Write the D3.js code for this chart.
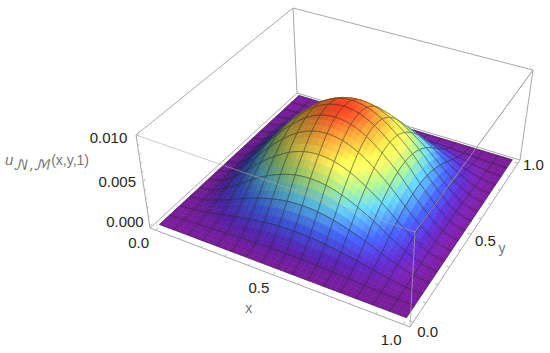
<!doctype html>
<html lang="en">
<head>
<meta charset="utf-8">
<title>Surface plot</title>
<script src="https://d3js.org/d3.v7.min.js"></script>
<style>
body { margin: 0; background: #fff; }
text { font-family: "Liberation Sans", Arial, sans-serif; }
</style>
</head>
<body>
<div id="svg"></div>
<script>

var width = 550;
var height = 353;

//Surface heights, in thousandths. Rows go with x, columns with y
var surfaceValues = [
[0,0,0,0,0,0,0,0,0,0,0,0,0,0,0,0,0],
[0,.02,.09,.18,.27,.36,.42,.47,.48,.47,.42,.36,.27,.18,.09,.02,0],
[0,.09,.35,.67,1.04,1.35,1.60,1.77,1.82,1.77,1.60,1.35,1.04,.67,.35,.09,0],
[0,.18,.67,1.31,2.02,2.63,3.12,3.44,3.55,3.44,3.12,2.63,2.02,1.31,.67,.18,0],
[0,.27,1.04,2.02,3.12,4.05,4.81,5.31,5.47,5.31,4.81,4.05,3.12,2.02,1.04,.27,0],
[0,.36,1.35,2.63,4.05,5.25,6.25,6.89,7.10,6.89,6.25,5.25,4.05,2.63,1.35,.36,0],
[0,.42,1.60,3.12,4.81,6.25,7.44,8.20,8.45,8.20,7.44,6.25,4.81,3.12,1.60,.42,0],
[0,.47,1.77,3.44,5.31,6.89,8.20,9.03,9.31,9.03,8.20,6.89,5.31,3.44,1.77,.47,0],
[0,.48,1.82,3.55,5.47,7.10,8.45,9.31,9.60,9.31,8.45,7.10,5.47,3.55,1.82,.48,0],
[0,.47,1.77,3.44,5.31,6.89,8.20,9.03,9.31,9.03,8.20,6.89,5.31,3.44,1.77,.47,0],
[0,.42,1.60,3.12,4.81,6.25,7.44,8.20,8.45,8.20,7.44,6.25,4.81,3.12,1.60,.42,0],
[0,.36,1.35,2.63,4.05,5.25,6.25,6.89,7.10,6.89,6.25,5.25,4.05,2.63,1.35,.36,0],
[0,.27,1.04,2.02,3.12,4.05,4.81,5.31,5.47,5.31,4.81,4.05,3.12,2.02,1.04,.27,0],
[0,.18,.67,1.31,2.02,2.63,3.12,3.44,3.55,3.44,3.12,2.63,2.02,1.31,.67,.18,0],
[0,.09,.35,.67,1.04,1.35,1.60,1.77,1.82,1.77,1.60,1.35,1.04,.67,.35,.09,0],
[0,.02,.09,.18,.27,.36,.42,.47,.48,.47,.42,.36,.27,.18,.09,.02,0],
[0,0,0,0,0,0,0,0,0,0,0,0,0,0,0,0,0]
];

var xTicks = [0, 0.5, 1];
var yTicks = [0, 0.5, 1];
var zTicks = [0, 0.005, 0.01];
var minorTicks = [0.1, 0.2, 0.3, 0.4, 0.6, 0.7, 0.8, 0.9];
var zMinorTicks = [0.001, 0.002, 0.003, 0.004, 0.006, 0.007, 0.008, 0.009];

var colorStops = [0, 0.08, 0.21, 0.38, 0.52, 0.67, 0.83, 0.96];
var colorValues = ["#7a1c9c", "#5a26bc", "#3f5cec", "#5cc4e4", "#a6e07e", "#ffe950", "#ff9c34", "#ff3420"];

//Box corners on the page, [x=0,y=0], [x=1,y=0], [x=1,y=1], [x=0,y=1]
var floorCorners = [[150, 228], [410, 327], [520, 160], [297, 93]];
var roofCorners = [[136, 135], [415, 232], [533, 70], [293, 8]];

//Label offsets from their ticks, the perspective moves them around
var xLabelOffsets = [[-17, 18], [-14, 18], [-12, 21]];
var yLabelOffsets = [[4, 15], [4, 12], [5, 7]];
var zLabelOffsets = [[-6, 1], [-7, 5], [-9, 6]];

var svg = d3.select("#svg").append("svg")
    .attr("width", width)
    .attr("height", height);

//Homography taking the unit square to a four sided shape
function makeHomography(q) {
    var dx1 = q[1][0] - q[2][0], dx2 = q[3][0] - q[2][0], sx = q[0][0] - q[1][0] + q[2][0] - q[3][0];
    var dy1 = q[1][1] - q[2][1], dy2 = q[3][1] - q[2][1], sy = q[0][1] - q[1][1] + q[2][1] - q[3][1];
    var det = dx1 * dy2 - dx2 * dy1;
    var g = (sx * dy2 - dx2 * sy) / det;
    var h = (dx1 * sy - sx * dy1) / det;
    var a = q[1][0] - q[0][0] + g * q[1][0];
    var b = q[3][0] - q[0][0] + h * q[3][0];
    var d = q[1][1] - q[0][1] + g * q[1][1];
    var e = q[3][1] - q[0][1] + h * q[3][1];
    return function(u, v) {
        var w = g * u + h * v + 1;
        return [(a * u + b * v + q[0][0]) / w, (d * u + e * v + q[0][1]) / w];
    };
}

var floorMap = makeHomography(floorCorners);
var roofMap = makeHomography(roofCorners);

//The surface sits a little inside the box
var xScale = d3.scaleLinear().domain([-0.025, 1.025]).range([0, 1]);
var yScale = d3.scaleLinear().domain([-0.025, 1.025]).range([0, 1]);
var zScale = d3.scaleLinear().domain([-0.0002, 0.0102]).range([0, 1]);
var colorScale = d3.scaleLinear().domain(colorStops.map(function(s) { return s * 0.0102; })).range(colorValues).clamp(true);

function project(x, y, z) {
    var low = floorMap(xScale(x), yScale(y));
    var high = roofMap(xScale(x), yScale(y));
    var w = zScale(z);
    return [low[0] + (high[0] - low[0]) * w, low[1] + (high[1] - low[1]) * w];
}

//Smooth lookup between grid nodes, only so the mesh and colours do not look faceted
function catmull(p0, p1, p2, p3, t) {
    return 0.5 * (2 * p1 + (p2 - p0) * t + (2 * p0 - 5 * p1 + 4 * p2 - p3) * t * t + (3 * p1 - p0 - 3 * p2 + p3) * t * t * t);
}

var n = surfaceValues.length - 1;

function node(i, j) {
    i = Math.max(0, Math.min(n, i));
    j = Math.max(0, Math.min(n, j));
    return surfaceValues[i][j];
}

function heightAt(x, y) {
    var fx = x * n, fy = y * n;
    var i = Math.min(n - 1, Math.floor(fx)), j = Math.min(n - 1, Math.floor(fy));
    var t = fx - i, s = fy - j;
    var rows = [-1, 0, 1, 2].map(function(k) {
        return catmull(node(i + k, j - 1), node(i + k, j), node(i + k, j + 1), node(i + k, j + 2), s);
    });
    return Math.max(0, catmull(rows[0], rows[1], rows[2], rows[3], t)) / 1000;
}

function surfacePoint(x, y) {
    return project(x, y, heightAt(x, y));
}

//Colour by height, darkened on slopes that face away from the light
function shade(x, y) {
    var h = 0.01;
    var z = heightAt(x, y);
    var dzdx = (heightAt(Math.min(1, x + h), y) - heightAt(Math.max(0, x - h), y)) / (2 * h) * 100;
    var dzdy = (heightAt(x, Math.min(1, y + h)) - heightAt(x, Math.max(0, y - h))) / (2 * h) * 100;
    var f = 1 - 0.17 * dzdx - 0.03 * dzdy;
    f = Math.max(0.55, Math.min(1.12, f));
    var c = d3.rgb(colorScale(z));
    return d3.rgb(Math.min(255, c.r * f), Math.min(255, c.g * f), Math.min(255, c.b * f)).formatHex();
}

function edge(x0, y0, z0, x1, y1, z1) {
    return d3.line()([project(x0, y0, z0), project(x1, y1, z1)]);
}

var boxColor = "#a8a8a8";
var low = -0.025, high = 1.025, zLow = -0.0002, zHigh = 0.0102;

function boxLine(x0, y0, z0, x1, y1, z1, op) {
    svg.append("path")
        .attr("d", edge(x0, y0, z0, x1, y1, z1))
        .attr("fill", "none")
        .attr("stroke", boxColor)
        .attr("stroke-opacity", op)
        .attr("stroke-width", 1);
}

//Back edges go under the surface
boxLine(low, high, zLow, low, high, zHigh, 1);
boxLine(low, high, zLow, low, low, zLow, 1);
boxLine(low, high, zLow, high, high, zLow, 1);
boxLine(low, high, zHigh, low, low, zHigh, 1);
boxLine(low, high, zHigh, high, high, zHigh, 1);
boxLine(low, low, zLow, low, low, zHigh, 1);
boxLine(high, high, zLow, high, high, zHigh, 1);
boxLine(high, low, zHigh, high, high, zHigh, 1);
boxLine(low, low, zLow, high, low, zLow, 1);
boxLine(high, low, zLow, high, high, zLow, 1);

//Paint from the far corner (x=0, y=1) to the near corner (x=1, y=0)
var sub = 3;
var surface = svg.append("g");
var meshLine = d3.line();

for (var i = 0; i < n; i++) {
    for (var j = n - 1; j >= 0; j--) {
        for (var a = 0; a < sub; a++) {
            for (var b = sub - 1; b >= 0; b--) {
                var x0 = (i + a / sub) / n, x1 = (i + (a + 1) / sub) / n;
                var y0 = (j + b / sub) / n, y1 = (j + (b + 1) / sub) / n;
                var fill = shade((x0 + x1) / 2, (y0 + y1) / 2);
                surface.append("polygon")
                    .attr("points", [surfacePoint(x0, y0), surfacePoint(x1, y0), surfacePoint(x1, y1), surfacePoint(x0, y1)].join(" "))
                    .attr("fill", fill)
                    .attr("stroke", fill)
                    .attr("stroke-width", 0.6);
            }
        }
        //mesh around this cell
        var cellLines = [];
        cellLines.push([[i / n, j / n], [(i + 1) / n, j / n]]);
        cellLines.push([[i / n, (j + 1) / n], [(i + 1) / n, (j + 1) / n]]);
        cellLines.push([[i / n, j / n], [i / n, (j + 1) / n]]);
        cellLines.push([[(i + 1) / n, j / n], [(i + 1) / n, (j + 1) / n]]);
        cellLines.forEach(function(seg) {
            var pts = d3.range(sub * 2 + 1).map(function(k) {
                var t = k / (sub * 2);
                return surfacePoint(seg[0][0] + (seg[1][0] - seg[0][0]) * t, seg[0][1] + (seg[1][1] - seg[0][1]) * t);
            });
            surface.append("path")
                .attr("d", meshLine(pts))
                .attr("fill", "none")
                .attr("stroke", "#262626")
                .attr("stroke-opacity", 0.5)
                .attr("stroke-width", 0.9);
        });
    }
}

//Front edges lie over the surface
boxLine(low, low, zHigh, high, low, zHigh, 0.6);
boxLine(high, low, zLow, high, low, zHigh, 0.7);
boxLine(high, low, zHigh, high, high, zHigh, 0.7);

//Ticks along the three axes
function tickMark(p, q) {
    svg.append("path")
        .attr("d", d3.line()([p, q]))
        .attr("stroke", boxColor)
        .attr("stroke-width", 0.8);
}

xTicks.concat(minorTicks).forEach(function(v) {
    var len = xTicks.indexOf(v) >= 0 ? 0.016 : 0.01;
    tickMark(project(v, low, zLow), project(v, low + len, zLow));
});
yTicks.concat(minorTicks).forEach(function(v) {
    var len = yTicks.indexOf(v) >= 0 ? 0.016 : 0.01;
    tickMark(project(high, v, zLow), project(high - len, v, zLow));
});
zTicks.concat(zMinorTicks).forEach(function(v) {
    var len = zTicks.indexOf(v) >= 0 ? 0.016 : 0.01;
    tickMark(project(low, low, v), project(low, low + len, v));
});

//Tick labels hang off the tick they belong to
function label(text, p, dx, dy, anchor, size, color) {
    return svg.append("text")
        .attr("x", p[0] + dx)
        .attr("y", p[1] + dy)
        .attr("text-anchor", anchor)
        .attr("font-size", size)
        .attr("fill", color)
        .text(text);
}

var tickColor = "#262626";
var axisColor = "#777777";

xTicks.forEach(function(v, k) {
    label(d3.format(".1f")(v), project(v, low, zLow), xLabelOffsets[k][0], xLabelOffsets[k][1], "middle", 15, tickColor);
});
yTicks.forEach(function(v, k) {
    label(d3.format(".1f")(v), project(high, v, zLow), yLabelOffsets[k][0], yLabelOffsets[k][1], "start", 15, tickColor);
});
zTicks.forEach(function(v, k) {
    label(d3.format(".3f")(v), project(low, low, v), zLabelOffsets[k][0], zLabelOffsets[k][1], "end", 15, tickColor);
});

label("x", project(0.5, low, zLow), -24, 38, "middle", 14, axisColor);
label("y", project(high, 0.5, zLow), 31, 19, "middle", 14, axisColor);

//z axis title with its subscript
var zTitle = label("u", [5, 165], 0, 0, "start", 15, axisColor).attr("font-style", "italic");
zTitle.append("tspan").attr("dy", 5).attr("font-size", 14).attr("font-style", "normal")
    .style("font-family", "'DejaVu Math TeX Gyre', 'DejaVu Sans', serif").text("\ud835\udca9,\u2133");
zTitle.append("tspan").attr("dy", -5).attr("font-style", "normal").attr("font-size", 14).text("(x,y,1)");

</script>
</body>
</html>
